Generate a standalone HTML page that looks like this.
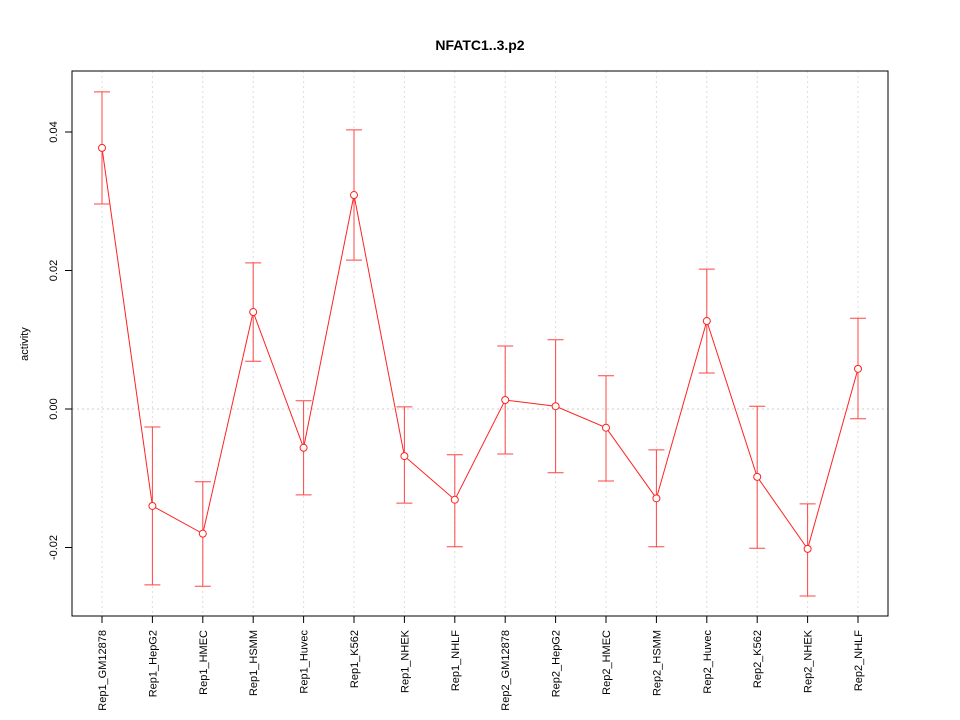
<!DOCTYPE html>
<html><head><meta charset="utf-8"><style>
body{margin:0;background:#fff}
svg{display:block;font-family:"Liberation Sans",sans-serif}
</style></head><body>
<svg id="chart" width="960" height="720">
<rect width="960" height="720" fill="#fff"/>
<text x="480" y="50" text-anchor="middle" font-weight="bold" font-size="14">NFATC1..3.p2</text>
<text transform="translate(28,344) rotate(-90)" text-anchor="middle" font-size="11">activity</text>
<g id="grid"></g><g id="axes"></g><g id="marks"></g>
<rect x="72" y="71" width="816" height="545" fill="none" stroke="#000"/>
</svg>
<script>
const categories=["Rep1_GM12878","Rep1_HepG2","Rep1_HMEC","Rep1_HSMM","Rep1_Huvec","Rep1_K562","Rep1_NHEK","Rep1_NHLF","Rep2_GM12878","Rep2_HepG2","Rep2_HMEC","Rep2_HSMM","Rep2_Huvec","Rep2_K562","Rep2_NHEK","Rep2_NHLF"];
const values=[0.0377,-0.0140,-0.0180,0.0140,-0.0056,0.0309,-0.0068,-0.0131,0.0013,0.0004,-0.0027,-0.0129,0.0127,-0.0098,-0.0202,0.0058];
const upper=[0.0458,-0.0026,-0.0105,0.0211,0.0012,0.0403,0.0003,-0.0066,0.0091,0.0100,0.0048,-0.0059,0.0202,0.0004,-0.0137,0.0131];
const lower=[0.0296,-0.0254,-0.0256,0.0069,-0.0124,0.0215,-0.0136,-0.0199,-0.0065,-0.0092,-0.0104,-0.0199,0.0052,-0.0201,-0.0270,-0.0014];
const yTicks=[-0.02,0,0.02,0.04];
const yTickLabels=["-0.02","0.00","0.02","0.04"];

const NS="http://www.w3.org/2000/svg";
const x=i=>102+i*(756/(categories.length-1));
const y=v=>409-v*6925;
function mk(tag,attrs,parent){const e=document.createElementNS(NS,tag);for(const k in attrs)e.setAttribute(k,attrs[k]);document.getElementById(parent).appendChild(e);return e;}
let zl=mk("line",{x1:72,x2:888,y1:y(0),y2:y(0),stroke:"#ccc","stroke-dasharray":"2,3"},"grid");


yTicks.forEach((t,i)=>{
  let tk=mk("line",{x1:65,x2:72,y1:y(t),y2:y(t),stroke:"#000"},"axes");
  
  
  let tl=mk("text",{transform:`translate(57,${y(t)}) rotate(-90)`,"text-anchor":"middle","font-size":"11"},"axes");
  tl.textContent=yTickLabels[i];
  
  
});
categories.forEach((c,i)=>{
  let g=mk("line",{x1:x(i),x2:x(i),y1:71,y2:616,stroke:"#ddd","stroke-dasharray":"2,3"},"grid");
  
  
  let tk=mk("line",{x1:x(i),x2:x(i),y1:616,y2:623,stroke:"#000"},"axes");
  
  
  let tl=mk("text",{transform:`translate(${x(i)+4},630) rotate(-90)`,"text-anchor":"end","font-size":"11"},"axes");
  tl.textContent=c;
  
  
});
const pts=values.map((v,i)=>x(i)+","+y(v)).join(" ");
let pl=mk("polyline",{points:pts,fill:"none",stroke:"#f22","stroke-width":1},"marks");


values.forEach((v,i)=>{
  let eb=mk("path",{d:`M${x(i)},${y(upper[i])}V${y(lower[i])}M${x(i)-8},${y(upper[i])}h16M${x(i)-8},${y(lower[i])}h16`,stroke:"#f44",fill:"none"},"marks");
  
  
  let p=mk("circle",{cx:x(i),cy:y(v),r:3.5,fill:"#fff",stroke:"#f22"},"marks");
  
  
});
</script>
</body></html>
